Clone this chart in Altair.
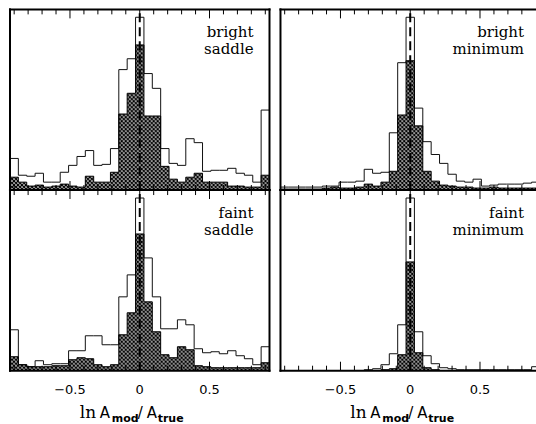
import base64
import altair as alt
import pandas as pd

# ---------------- data ----------------
BIN_CENTERS = [-0.90, -0.84, -0.78, -0.72, -0.66, -0.60, -0.54, -0.48, -0.42, -0.36,
               -0.30, -0.24, -0.18, -0.12, -0.06, 0.00, 0.06, 0.12, 0.18, 0.24,
               0.30, 0.36, 0.42, 0.48, 0.54, 0.60, 0.66, 0.72, 0.78, 0.84, 0.90]
BIN_WIDTH = 0.06

BRIGHT_SADDLE_ALL = [32, 15, 14, 17, 8, 8, 18, 25, 34, 40, 25, 26, 42, 122, 133, 175,
                     118, 103, 42, 27, 25, 52, 48, 19, 20, 20, 22, 17, 15, 8, 81]
BRIGHT_SADDLE_SUB = [13, 8, 4, 5, 3, 4, 6, 4, 3, 14, 8, 8, 18, 77, 98, 147,
                     75, 75, 24, 11, 8, 13, 17, 8, 8, 8, 4, 4, 3, 3, 15]

BRIGHT_MIN_ALL = [3, 3, 3, 3, 3, 4, 4, 8, 8, 9, 21, 17, 18, 58, 129, 175,
                  83, 49, 36, 27, 16, 9, 8, 11, 4, 5, 6, 6, 6, 7, 8]
BRIGHT_MIN_SUB = [1, 1, 1, 1, 1, 2, 3, 2, 2, 3, 6, 4, 8, 19, 76, 131,
                  65, 19, 9, 5, 4, 3, 3, 2, 2, 3, 2, 2, 2, 2, 2]

FAINT_SADDLE_ALL = [41, 6, 4, 10, 6, 7, 7, 20, 20, 35, 35, 26, 26, 74, 96, 173,
                    113, 74, 42, 42, 51, 46, 22, 18, 19, 17, 20, 15, 12, 6, 24]
FAINT_SADDLE_SUB = [14, 6, 4, 4, 4, 5, 5, 11, 13, 12, 6, 4, 6, 36, 58, 137,
                    69, 39, 16, 13, 24, 21, 5, 4, 3, 3, 3, 3, 3, 3, 8]

FAINT_MIN_ALL = [0, 0, 0, 0, 0, 0, 0, 0, 0, 0, 1, 2, 6, 17, 46, 173,
                 39, 15, 7, 3, 2, 1, 1, 1, 1, 1, 1, 1, 1, 1, 4]
FAINT_MIN_SUB = [0, 0, 0, 0, 0, 0, 0, 0, 0, 0, 0, 0, 1, 2, 16, 109,
                 18, 3, 1, 0, 0, 0, 0, 0, 0, 0, 0, 0, 0, 0, 0]

PANEL_WORDS = [["bright", "saddle"], ["bright", "minimum"],
               ["faint", "saddle"], ["faint", "minimum"]]

TICK_X = [-0.9, -0.8, -0.7, -0.6, -0.5, -0.4, -0.3, -0.2, -0.1, 0.0,
          0.1, 0.2, 0.3, 0.4, 0.5, 0.6, 0.7, 0.8, 0.9]
MAJOR_TICKS = [-0.5, 0.0, 0.5]
LABEL_TICKS = [-0.5, 0.0, 0.5]
LABEL_TEXTS = ["\u22120.5", "0", "0.5"]

# x-axis title pieces: (text, font, size, weight, px, py)
TITLE_PIECES = [
    ("ln", "DejaVu Serif", 17, "normal", 70, 228),
    ("A", "DejaVu Sans", 15, "normal", 90, 228),
    ("mod", "DejaVu Sans", 11, "bold", 102, 232),
    ("/", "DejaVu Sans", 15, "normal", 128, 228),
    ("A", "DejaVu Sans", 15, "normal", 137, 228),
    ("true", "DejaVu Sans", 11, "bold", 148, 232),
]

# ---------------- layout / style constants ----------------
XMIN, XMAX = -0.93, 0.93
LEFT_W = 260
RIGHT_W = 256
PANEL_H = 181
PX_PER_UNIT = LEFT_W / (XMAX - XMIN)
SPACING = 11
ONE = pd.DataFrame({"k": [0]})


def hatch_uri(w, h):
    svg = ("<svg xmlns='http://www.w3.org/2000/svg' width='%d' height='%d'>"
           "<defs><pattern id='xh' width='4' height='4' patternUnits='userSpaceOnUse'>"
           "<path d='M-1,-1L5,5M-1,3L1,5M3,-1L5,1M-1,5L5,-1M-1,1L1,-1M3,5L5,3' "
           "stroke='black' stroke-width='1.3' fill='none'/></pattern></defs>"
           "<rect width='%d' height='%d' fill='url(#xh)'/></svg>") % (w, h, w, h)
    return "data:image/svg+xml;base64," + base64.b64encode(svg.encode()).decode()


def txt(text, font, size, weight, px, py, align="left"):
    return alt.Chart(ONE).mark_text(
        text=text, align=align, baseline="alphabetic", font=font, fontSize=size,
        fontWeight=weight, color="black"
    ).encode(x=alt.value(px), y=alt.value(py))


def panel(all_vals, sub_vals, words, ymax, width, right, bottom):
    height = PANEL_H
    xmax = XMIN + width / PX_PER_UNIT
    xs = alt.Scale(domain=[XMIN, xmax], nice=False, zero=False)
    ys = alt.Scale(domain=[0, ymax], nice=False, zero=False)
    upp = ymax / height
    dxp = 1.0 / PX_PER_UNIT

    edges = [c - BIN_WIDTH / 2 for c in BIN_CENTERS] + [BIN_CENTERS[-1] + BIN_WIDTH / 2]
    df = pd.DataFrame({
        "x": edges,
        "all": all_vals + [all_vals[-1]],
        "sub": sub_vals + [sub_vals[-1]],
        "top": [ymax] * len(edges),
    })
    base = alt.Chart(df)

    img = alt.Chart(pd.DataFrame({"u": [hatch_uri(width, height)]})).mark_image(
        width=width, height=height, align="left", baseline="top", aspect=False
    ).encode(url="u:N", x=alt.value(0), y=alt.value(0))

    cover = base.mark_area(interpolate="step-after", color="white", opacity=1, clip=True).encode(
        x=alt.X("x:Q", scale=xs, axis=None),
        y=alt.Y("sub:Q", scale=ys, axis=None),
        y2="top:Q",
    )
    open_line = base.mark_line(interpolate="step-after", color="#111", strokeWidth=1, clip=True).encode(
        x=alt.X("x:Q", scale=xs, axis=None),
        y=alt.Y("all:Q", scale=ys, axis=None),
    )
    sub_line = base.mark_line(interpolate="step-after", color="#000", strokeWidth=1, clip=True).encode(
        x=alt.X("x:Q", scale=xs, axis=None),
        y=alt.Y("sub:Q", scale=ys, axis=None),
    )
    dash = alt.Chart(pd.DataFrame({"x": [0.0], "y": [0.0], "y2": [ymax]})).mark_rule(
        strokeDash=[9, 5], strokeWidth=2, color="black", clip=True
    ).encode(
        x=alt.X("x:Q", scale=xs, axis=None),
        y=alt.Y("y:Q", scale=ys, axis=None),
        y2="y2:Q",
    )

    # inward ticks on top and bottom edges
    trows = []
    for t in TICK_X:
        if (t - XMIN) * PX_PER_UNIT + 2 > width:
            continue
        ln = (9 if t in MAJOR_TICKS else 5) * upp
        trows.append({"x": t, "y": 0.0, "y2": ln})
        trows.append({"x": t, "y": ymax, "y2": ymax - ln})
    ticks = alt.Chart(pd.DataFrame(trows)).mark_rule(color="black", strokeWidth=1).encode(
        x=alt.X("x:Q", scale=xs, axis=None),
        y=alt.Y("y:Q", scale=ys, axis=None),
        y2="y2:Q",
    )

    # frame drawn as thin filled rectangles
    xr = xmax if right else XMAX + dxp
    frows = [
        {"x": XMIN - dxp, "x2": XMIN + dxp, "y": -upp, "y2": ymax + upp},
        {"x": XMIN - dxp, "x2": xr, "y": ymax - upp, "y2": ymax + upp},
        {"x": XMIN - dxp, "x2": xr, "y": -upp, "y2": upp},
    ]
    if not right:
        frows.append({"x": XMAX - dxp, "x2": XMAX + dxp, "y": -upp, "y2": ymax + upp})
    frame = alt.Chart(pd.DataFrame(frows)).mark_rect(color="black").encode(
        x=alt.X("x:Q", scale=xs, axis=None), x2="x2:Q",
        y=alt.Y("y:Q", scale=ys, axis=None), y2="y2:Q",
    )

    layers = [img, cover, open_line, sub_line, dash, ticks, frame]
    layers.append(txt(words[0], "DejaVu Serif", 15, "normal", 244, 28, "right"))
    layers.append(txt(words[1], "DejaVu Serif", 15, "normal", 244, 45, "right"))

    if bottom:
        lab = alt.Chart(pd.DataFrame({"v": LABEL_TICKS, "t": LABEL_TEXTS})).mark_text(
            align="center", baseline="alphabetic", font="DejaVu Sans", fontSize=13,
            color="black"
        ).encode(x=alt.X("v:Q", scale=xs, axis=None), y=alt.value(204), text="t:N")
        layers.append(lab)
        for (t, f, s, w, px, py) in TITLE_PIECES:
            layers.append(txt(t, f, s, w, px, py))

    return alt.layer(*layers).properties(width=width, height=height)


tl = panel(BRIGHT_SADDLE_ALL, BRIGHT_SADDLE_SUB, PANEL_WORDS[0], 183, LEFT_W, False, False)
tr = panel(BRIGHT_MIN_ALL, BRIGHT_MIN_SUB, PANEL_WORDS[1], 183, RIGHT_W, True, False)
bl = panel(FAINT_SADDLE_ALL, FAINT_SADDLE_SUB, PANEL_WORDS[2], 181, LEFT_W, False, True)
br = panel(FAINT_MIN_ALL, FAINT_MIN_SUB, PANEL_WORDS[3], 181, RIGHT_W, True, True)

chart = alt.concat(tl, tr, bl, br, columns=2, spacing={"row": 0, "column": SPACING},
                   bounds="flush").properties(
    padding={"left": 8, "top": 7, "right": 0, "bottom": 0},
    background="white",
).configure_view(stroke=None)

chart.save("out.html", embed_options={"renderer": "svg", "actions": False})
